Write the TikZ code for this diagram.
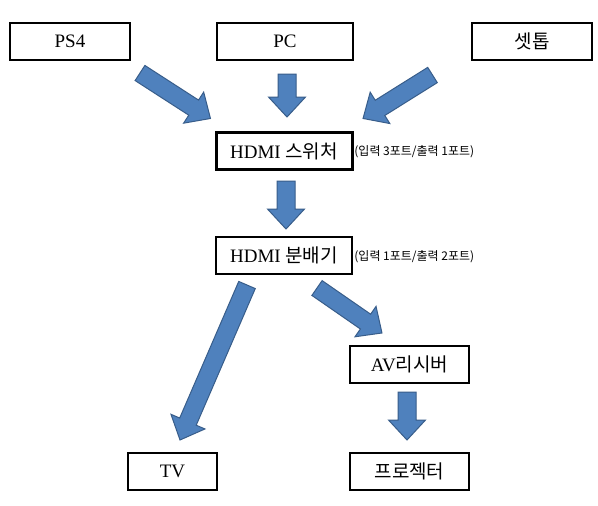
\documentclass[tikz,border=0pt]{standalone}
\usepackage{fontspec}
\setmainfont{Liberation Serif}
\newfontfamily\kr{Noto Sans CJK KR}
\usetikzlibrary{calc}
\definecolor{arrowfill}{HTML}{4F81BD}
\definecolor{arrowedge}{HTML}{385D8A}

% fat block arrow from #1 to #2
\newcommand{\blockarr}[2]{%
  \path[flowarrow] let \p1=(#1), \p2=(#2),
    \n1={atan2(\y2-\y1,\x2-\x1)}, \n2={veclen(\x2-\x1,\y2-\y1)} in
    [shift={(\p1)}, rotate=\n1]
    (0pt,-4.5pt) -- ({\n2*1pt-10pt},-4.5pt) -- ({\n2*1pt-10pt},-9.25pt)
    -- ({\n2*1pt},0pt) -- ({\n2*1pt-10pt},9.25pt) -- ({\n2*1pt-10pt},4.5pt)
    -- (0pt,4.5pt) -- cycle;}

\begin{document}
\begin{tikzpicture}[
  x=0.5pt, y=-0.5pt,
  box/.style={rectangle, draw=black, line width=1pt, inner sep=0pt,
              minimum height=18.5pt, align=center,
              font=\fontsize{9.5}{11}\selectfont},
  note/.style={anchor=west, inner sep=0pt, font=\fontsize{6}{7}\selectfont\kr},
  flowarrow/.style={fill=arrowfill, draw=arrowedge, line width=0.5pt,
                    line join=miter},
]
  \path[use as bounding box, fill=white] (0,0) rectangle (598,505);

  % sources
  \node[box, minimum width=60pt] (ps4) at (70, 41.5)  {PS4};
  \node[box, minimum width=68pt] (pc)  at (285, 41.5) {PC};
  \node[box, minimum width=60pt] (stb) at (532, 41.5) {\kr 셋톱};

  % switch and splitter
  \node[box, minimum width=68pt, line width=1.5pt] (sw) at (284, 151)
    {HDMI {\kr 스위처}};
  \node[note] (swnote) at (354, 152) {(입력 3포트/출력 1포트)};
  \node[box, minimum width=68pt] (spl) at (284, 255.5)
    {HDMI {\kr 분배기}};
  \node[note] (splnote) at (354, 257) {(입력 1포트/출력 2포트)};

  % outputs
  \node[box, minimum width=59.5pt] (av)   at (409.5, 364)  {AV{\kr 리시버}};
  \node[box, minimum width=44.5pt] (tv)   at (172.5, 471.5) {TV};
  \node[box, minimum width=59.5pt] (proj) at (409.5, 471.5) {\kr 프로젝터};

  % arrow ends
  \coordinate (ps4-out) at (140, 73);
  \coordinate (sw-in1)  at (210.5, 118.5);
  \coordinate (pc-out)  at (287, 74);
  \coordinate (sw-in2)  at (287, 117);
  \coordinate (stb-out) at (432.5, 75);
  \coordinate (sw-in3)  at (363, 118.5);
  \coordinate (sw-out)  at (286, 181);
  \coordinate (spl-in)  at (286, 229);
  \coordinate (spl-out1) at (247, 285);
  \coordinate (tv-in)    at (180, 440);
  \coordinate (spl-out2) at (317, 288);
  \coordinate (av-in)    at (382, 333);
  \coordinate (av-out)   at (407, 392);
  \coordinate (proj-in)  at (407, 440);

  \blockarr{ps4-out}{sw-in1}
  \blockarr{pc-out}{sw-in2}
  \blockarr{stb-out}{sw-in3}
  \blockarr{sw-out}{spl-in}
  \blockarr{spl-out1}{tv-in}
  \blockarr{spl-out2}{av-in}
  \blockarr{av-out}{proj-in}
\end{tikzpicture}
\end{document}
